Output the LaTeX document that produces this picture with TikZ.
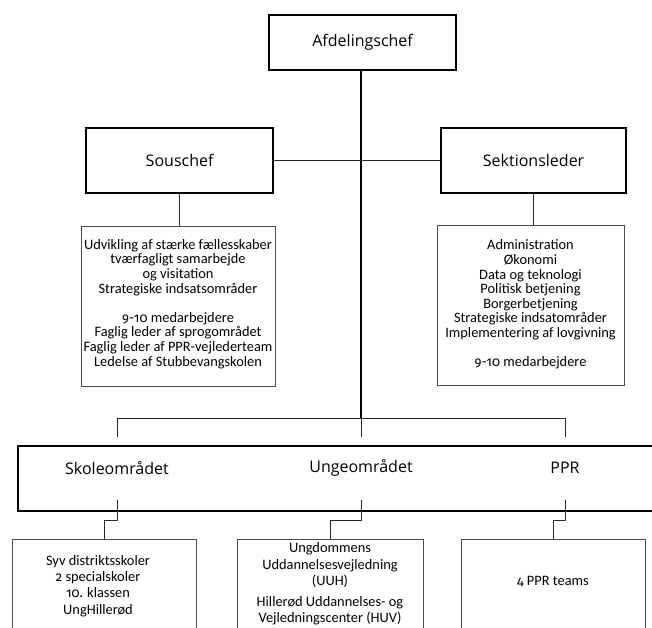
\documentclass[tikz,border=0pt]{standalone}
\usepackage{fontspec}
\setmainfont{Carlito}
\newfontfamily\osf{Fira Sans}[Numbers=OldStyle, Scale=0.92]
\newfontfamily\headfont{Open Sans}
\tikzset{
  headbox/.style={draw=black, line width=2.2pt, inner sep=0pt, anchor=north west,
    font=\headfont\fontsize{16}{19}\selectfont},
  headlabel/.style={inner sep=0pt, font=\headfont\fontsize{16}{19}\selectfont},
  infobox/.style={draw=black!70, line width=1pt, inner sep=0pt, anchor=north west},
  bodytext/.style={inner sep=0pt, align=center, font=\fontsize{14.4}{14.6}\selectfont},
  lowtext/.style={inner sep=0pt, align=center, font=\fontsize{14.4}{16.2}\selectfont},
  conn/.style={line width=0.9pt, draw=black!85},
  mainconn/.style={line width=1.7pt, draw=black}
}
\begin{document}
\begin{tikzpicture}[x=1pt,y=-1pt]
\useasboundingbox (0,0) rectangle (652,627);
\clip (0,0) rectangle (652,627);
% top boxes
\node[headbox, minimum width=187pt, minimum height=55pt] (afd) at (268,14) {Afdelingschef};
\node[headbox, minimum width=187pt, minimum height=65pt] (sous) at (85,127) {Souschef};
\node[headbox, minimum width=185pt, minimum height=65pt] (sekt) at (440,127) {Sektionsleder};
% info boxes
\node[infobox, minimum width=194pt, minimum height=160pt] (sousinfo) at (81,226) {};
\node[bodytext] (sousinfotext) at (178,304) {Udvikling af stærke fællesskaber\\tværfagligt samarbejde\\og visitation\\Strategiske indsatsområder\\[14.6pt]{\osf 9-10} medarbejdere\\Faglig leder af sprogområdet\\Faglig leder af PPR-vejlederteam\\Ledelse af Stubbevangskolen};
\node[infobox, minimum width=187pt, minimum height=160pt] (sektinfo) at (437,225) {};
\node[bodytext] (sektinfotext) at (530.5,304.5) {Administration\\Økonomi\\Data og teknologi\\Politisk betjening\\Borgerbetjening\\Strategiske indsatområder\\Implementering af lovgivning\\[14.6pt]{\osf 9-10} medarbejdere};
% wide area box
\node[headbox, minimum width=700pt, minimum height=65pt] (area) at (17,445) {};
\node[headlabel] (skole) at (117,468) {Skoleområdet};
\node[headlabel] (unge) at (361,468) {Ungeområdet};
\node[headlabel] (ppr) at (565,468) {PPR};
% bottom boxes
\node[infobox, minimum width=184pt, minimum height=120pt] (b1) at (12,539) {};
\node[lowtext] (b1text) at (98,586) {Syv distriktsskoler\\{\osf 2} specialskoler\\{\osf 10.} klassen\\UngHillerød};
\node[infobox, minimum width=186pt, minimum height=120pt] (b2) at (237,539) {};
\node[lowtext] (b2text) at (330,584) {Ungdommens\\Uddannelsesvejledning\\(UUH)\\[5pt]Hillerød Uddannelses- og\\Vejledningscenter (HUV)};
\node[infobox, minimum width=184pt, minimum height=120pt] (b3) at (461,539) {};
\node[lowtext] (b3text) at (553,582) {{\osf 4} PPR teams};
% coordinates
\coordinate (hub) at (361,418);
\coordinate (d1) at (117,437);
\coordinate (d2) at (361,437);
\coordinate (d3) at (565,437);
\coordinate (s1) at (117,500);
\coordinate (s2) at (361,500);
\coordinate (s3) at (565,500);
% connectors
\draw[conn] (sous.east) -- (sekt.west);
\draw[mainconn] (afd.south -| hub) -- (hub);
\draw[conn] (sous.south) -- (sous.south |- sousinfo.north);
\draw[conn] (sekt.south) -- (sekt.south |- sektinfo.north);
\draw[conn] (d1) |- (hub) -| (d3);
\draw[conn] (hub) -- (d2);
\draw[conn] (s1) -- ++(0,20) -| (b1.north);
\draw[conn] (s2) -- ++(0,20) -| (b2.north);
\draw[conn] (s3) -- ++(0,20) -| (b3.north);
\end{tikzpicture}
\end{document}
